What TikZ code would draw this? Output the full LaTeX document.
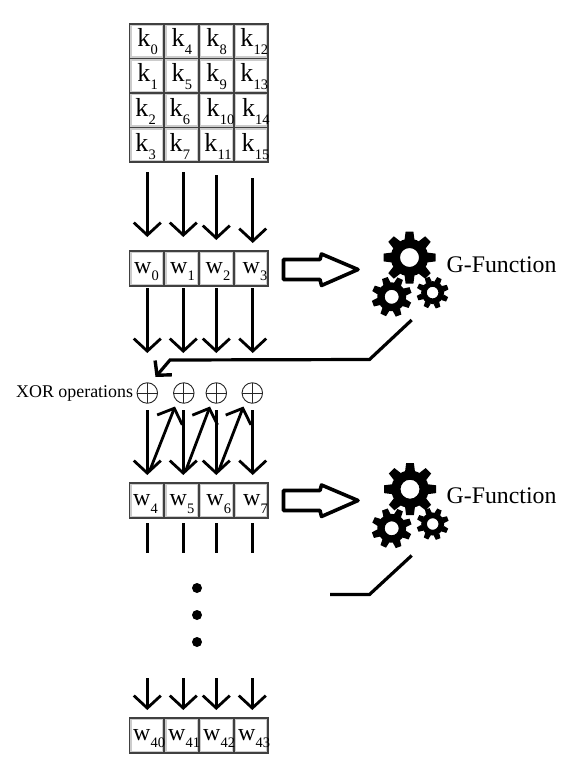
\documentclass[tikz,border=0pt]{standalone}
\usepackage{fontspec}
\setmainfont{Liberation Serif}
\usetikzlibrary{arrows.meta}
\tikzset{
  x=1pt,y=-1pt,
  cellbox/.style={draw=black!75,line width=1.7pt,fill=white,minimum width=34.5pt,minimum height=34.5pt,inner sep=0pt,
    path picture={\draw[black!20,line width=4.2pt] (path picture bounding box.south west) rectangle (path picture bounding box.north east);}},
  celltext/.style={anchor=base west,inner sep=0pt},
  conn/.style={line width=2.8pt,-{Straight Barb[length=12.5pt,width=27pt,line width=2.8pt]}},
  plainline/.style={line width=2.8pt},
  feed/.style={line width=3.2pt,line join=miter},
  feedtip/.style={feed,-{Straight Barb[length=10pt,width=22pt,line width=3.4pt]}},
  xorop/.style={circle,draw=black!85,line width=.9pt,minimum size=20.5pt,inner sep=0pt,
    path picture={\draw[black!85,line width=.9pt] (path picture bounding box.north)--(path picture bounding box.south) (path picture bounding box.east)--(path picture bounding box.west);}},
  bigarrow/.style={draw=black,fill=white,line width=3.6pt,line join=round},
  dotmark/.style={circle,fill=black,minimum size=10pt,inner sep=0pt},
  glabel/.style={font=\fontsize{23.8}{24}\selectfont,anchor=base west,inner sep=0pt},
  xlabel/.style={font=\fontsize{17.9}{18}\selectfont,anchor=base west,inner sep=0pt},
}
\newcommand{\cellt}[3]{\fontsize{#3}{#3}\selectfont #1\kern.2pt\raisebox{-7.5pt}{\fontsize{14.5}{14.5}\selectfont #2}}
\newcommand{\gearshape}[5]{% cx, cy, outer r, hole r, rotation
  \fill[black,even odd rule] (#1,#2) circle[radius=#4]
    (#1,#2) circle[radius=#3*0.72];
  \foreach \a in {0,45,...,315}{
    \fill[black,rotate around={\a+#5:(#1,#2)}] (#1-#3*0.19,#2-#3*0.68) -- (#1-#3*0.15,#2-#3) -- (#1+#3*0.15,#2-#3) -- (#1+#3*0.19,#2-#3*0.68) -- cycle;
  }}
\begin{document}
\begin{tikzpicture}
\useasboundingbox (0,0) rectangle (566,781);
% key matrix
\foreach \col/\x/\list in {0/146.7/{0,1,2,3},1/181.7/{4,5,6,7},2/216.5/{8,9,10,11},3/251/{12,13,14,15}}{
  \foreach \n [count=\r from 0] in \list {
    \pgfmathsetmacro\yy{41.2+\r*34.5}
    \node[cellbox] (k\n) at (\x,\yy) {};
  }
}
\foreach \n/\x/\y in {0/137.2/46.7,4/171.5/46.7,8/206.2/46.7,12/240.2/46.7,
  1/137.2/81.7,5/171.5/81.7,9/206.2/81.7,13/240.2/81.7,
  2/135.2/116.7,6/169.5/116.7,10/206.5/116.7,14/241.8/116.7,
  3/135.2/151.7,7/169.5/151.7,11/204.2/151.7,15/241.5/151.7}{
  \node[celltext] (kt\n) at (\x,\y) {\cellt{k}{\n}{26}};
}
% word rows
\foreach \i/\x in {0/146.7,1/181.7,2/216.5,3/251}{
  \node[cellbox,minimum height=35pt] (w\i) at (\x,268.5) {};
}
\foreach \i/\x in {0/133.8,1/170,2/205.5,3/242.5}{
  \node[celltext] (wt\i) at (\x,273) {\cellt{w}{\i}{24}};
}
\foreach \i/\x in {4/146.7,5/181.7,6/216.5,7/251}{
  \node[cellbox,minimum height=35pt] (w\i) at (\x,500.5) {};
}
\foreach \i/\x in {4/133,5/169.5,6/206.2,7/242.8}{
  \node[celltext] (wt\i) at (\x,505.7) {\cellt{w}{\i}{24}};
}
\foreach \i/\x in {40/146.7,41/181.7,42/216.5,43/251}{
  \node[cellbox,minimum height=35pt] (w\i) at (\x,735.2) {};
}
\foreach \i/\x in {40/132.8,41/167.8,42/202.8,43/237.8}{
  \node[celltext] (wt\i) at (\x,740) {\cellt{w}{\i}{24}};
}
% first arrow band
\foreach \n/\x/\a/\b in {a/147.3/172/237,b/183.3/172/237,c/216.3/175/240,d/252.7/178/243}{
  \coordinate (s\n) at (\x,\a); \coordinate (t\n) at (\x,\b);
  \draw[conn] (s\n) -- (t\n);
}
% second band
\foreach \n/\x in {a/147.3,b/183.3,c/216.3,d/252.7}{
  \coordinate (u\n) at (\x,288); \coordinate (v\n) at (\x,353);
  \draw[conn] (u\n) -- (v\n);
}
% XOR
\node[xorop] (xa) at (147.3,393) {};
\node[xorop] (xb) at (183.8,393) {};
\node[xorop] (xc) at (216.3,393) {};
\node[xorop] (xd) at (252.3,393) {};
\node[xlabel] (xorlab) at (16,397.3) {XOR operations};
% band below XOR
\foreach \n/\x in {a/147.3,b/183.3,c/216.3,d/252.7}{
  \coordinate (p\n) at (\x,410); \coordinate (q\n) at (\x,475);
  \draw[conn] (p\n) -- (q\n);
}
\coordinate (e1) at (150,470); \coordinate (f1) at (175,406.5);
\coordinate (e2) at (186,470); \coordinate (f2) at (210,406.5);
\coordinate (e3) at (219,470); \coordinate (f3) at (243.5,406.5);
\foreach \i in {1,2,3}{ \draw[conn] (e\i) -- (f\i); }
% stubs
\foreach \n/\x in {a/147.3,b/183.3,c/216.3,d/252.7}{
  \coordinate (g\n) at (\x,523); \coordinate (h\n) at (\x,553);
  \draw[plainline] (g\n) -- (h\n);
}
% dots
\node[dotmark] (d1) at (197,588) {};
\node[dotmark] (d2) at (197,615) {};
\node[dotmark] (d3) at (197,642) {};
% last band
\foreach \n/\x in {a/147.3,b/183.3,c/216.3,d/252.3}{
  \coordinate (m\n) at (\x,678); \coordinate (o\n) at (\x,710);
  \draw[conn] (m\n) -- (o\n);
}
% block arrows
\draw[bigarrow] (283.5,259.5) -- (320,259.5) -- (321.5,254) -- (358,269.5) -- (321.5,285.5) -- (320,279.5) -- (283.5,279.5) -- cycle;
\draw[bigarrow] (283.5,490.5) -- (320,490.5) -- (321.5,485) -- (358,500.5) -- (321.5,516.5) -- (320,510.5) -- (283.5,510.5) -- cycle;
% gears
\gearshape{409.5}{257.5}{26}{9.5}{0}
\gearshape{391.7}{296.8}{20}{7}{20}
\gearshape{432.6}{292.6}{16}{5.8}{20}
\gearshape{410}{489.2}{26}{9.5}{0}
\gearshape{391.7}{528.3}{20}{7}{20}
\gearshape{432.7}{524}{16}{5.8}{20}
\node[glabel] (g1) at (446.5,272) {G-Function};
\node[glabel] (g2) at (446.5,503) {G-Function};
% feedback
\coordinate (fa) at (411.7,320); \coordinate (fb) at (369.5,359.5); \coordinate (fc) at (170,360); \coordinate (fd) at (155.5,377);
\draw[feedtip] (fa) -- (fb) -- (fc) -- (fd);
\coordinate (ga) at (411.7,555.5); \coordinate (gb) at (369.5,594.5); \coordinate (gc) at (330,594.5);
\draw[feed] (ga) -- (gb) -- (gc);
\end{tikzpicture}
\end{document}
